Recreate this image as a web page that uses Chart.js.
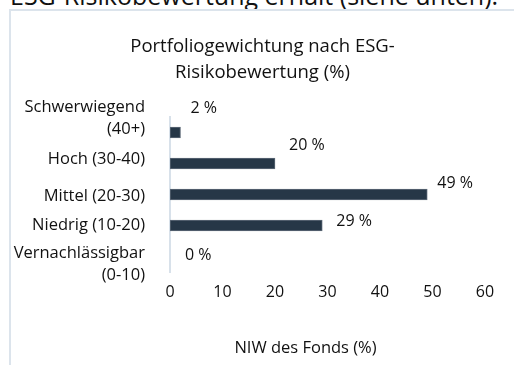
<!DOCTYPE html>
<html>
<head>
<meta charset="utf-8">
<script src="https://cdn.jsdelivr.net/npm/chart.js@4.4.1/dist/chart.umd.min.js"></script>
<style>
  html, body { margin: 0; padding: 0; background: #fff; overflow: hidden; }
  body { width: 514px; height: 365px; position: relative; font-family: "Open Sans", sans-serif; }
  .lead { position: absolute; left: 10px; top: -17px; font-size: 25px; line-height: 25px; color: #111; white-space: nowrap; }
  .frame { position: absolute; left: 9px; top: 9px; width: 600px; height: 400px;
           border-left: 2px solid #dce4ec; border-top: 2px solid #dce4ec; }
  .frame canvas { position: absolute; left: 0; top: 0; }
</style>
</head>
<body>
<div class="lead">ESG-Risikobewertung erhält (siehe unten).</div>
<div class="frame">
  <canvas id="riskChart" width="503" height="354"></canvas>
</div>
<script>
const categories = [
  ['Schwerwiegend', '(40+)'],
  'Hoch (30-40)',
  'Mittel (20-30)',
  'Niedrig (10-20)',
  ['Vernachlässigbar', '(0-10)']
];
const weights = [2, 20, 49, 29, 0];
const xMin = 0;
const xMax = 60;
const xStep = 10;

const chartTitle = ['Portfoliogewichtung nach ESG-', 'Risikobewertung (%)'];
const xCaption = 'NIW des Fonds (%)';

const textColor = '#111';
const fontFamily = '"Open Sans", sans-serif';

// title centred across the whole canvas (the built-in one honours layout padding)
const headline = {
  id: 'headline',
  afterDraw(chart, args, opts) {
    const ctx = chart.ctx;
    ctx.save();
    ctx.font = opts.font;
    ctx.fillStyle = textColor;
    ctx.textAlign = 'center';
    ctx.textBaseline = 'middle';
    opts.lines.forEach((line, k) => {
      ctx.fillText(line, chart.width / 2, opts.top + k * opts.lineHeight);
    });
    ctx.restore();
  }
};

// category names drawn beside the axis line, each with its own vertical nudge
const categoryLabels = {
  id: 'categoryLabels',
  afterDraw(chart, args, opts) {
    const ctx = chart.ctx;
    const scale = chart.scales.y;
    ctx.save();
    ctx.font = opts.font;
    ctx.fillStyle = textColor;
    ctx.textAlign = 'right';
    ctx.textBaseline = 'middle';
    chart.data.labels.forEach((label, i) => {
      const lines = Array.isArray(label) ? label : [label];
      const mid = scale.getPixelForValue(i) + opts.dy[i];
      const start = mid - (lines.length - 1) * opts.lineHeight / 2;
      lines.forEach((line, k) => {
        ctx.fillText(line, scale.right - opts.gap, start + k * opts.lineHeight);
      });
    });
    ctx.restore();
  }
};

// value labels sit to the right of each bar end, nudged upwards a bit
const valueLabels = {
  id: 'valueLabels',
  afterDatasetsDraw(chart, args, opts) {
    const ctx = chart.ctx;
    const meta = chart.getDatasetMeta(0);
    ctx.save();
    ctx.font = opts.font;
    ctx.fillStyle = textColor;
    ctx.textAlign = 'left';
    ctx.textBaseline = 'middle';
    meta.data.forEach((bar, i) => {
      const v = chart.data.datasets[0].data[i];
      ctx.fillText(v + ' %', bar.x + opts.dx[i], bar.y + opts.dy[i]);
    });
    ctx.restore();
  }
};

// caption under the value axis
const axisCaption = {
  id: 'axisCaption',
  afterDraw(chart, args, opts) {
    const ctx = chart.ctx;
    const area = chart.chartArea;
    ctx.save();
    ctx.font = opts.font;
    ctx.fillStyle = textColor;
    ctx.textAlign = 'center';
    ctx.textBaseline = 'middle';
    ctx.fillText(opts.text, (area.left + area.right) / 2 + opts.shift, area.bottom + opts.gap);
    ctx.restore();
  }
};

new Chart(document.getElementById('riskChart'), {
  type: 'bar',
  data: {
    labels: categories,
    datasets: [{
      data: weights,
      backgroundColor: '#263747',
      borderColor: '#5f6b78',
      borderWidth: 1,
      borderSkipped: false,
      barThickness: 11
    }]
  },
  options: {
    indexAxis: 'y',
    responsive: false,
    animation: false,
    layout: { padding: { left: 0, right: 29, top: 106, bottom: 0 } },
    scales: {
      x: {
        min: xMin,
        max: xMax,
        ticks: { stepSize: xStep, color: textColor, padding: 11,
                 font: { family: fontFamily, size: 16 } },
        grid: { display: false, drawTicks: false },
        border: { display: false },
        afterFit(scale) { scale.height = 93; }
      },
      y: {
        ticks: { display: false },
        grid: { display: false, drawTicks: false },
        border: { display: true, color: '#d8e1ea', width: 2 },
        afterFit(scale) { scale.width = 159; }
      }
    },
    plugins: {
      legend: { display: false },
      tooltip: { enabled: false },
      title: { display: false },
      headline: {
        lines: chartTitle,
        font: '18.5px ' + fontFamily,
        top: 36,
        lineHeight: 26
      },
      categoryLabels: {
        font: '16.5px ' + fontFamily,
        lineHeight: 22,
        gap: 25,
        dy: [-14, -4, 2, 0, 8]
      },
      valueLabels: {
        font: '16px ' + fontFamily,
        dx: [10, 14, 10, 14, 15],
        dy: [-24, -18, -11, -4, -1]
      },
      axisCaption: {
        text: xCaption,
        font: '16.5px ' + fontFamily,
        shift: -22,
        gap: 76
      }
    }
  },
  plugins: [headline, categoryLabels, valueLabels, axisCaption]
});
</script>
</body>
</html>
